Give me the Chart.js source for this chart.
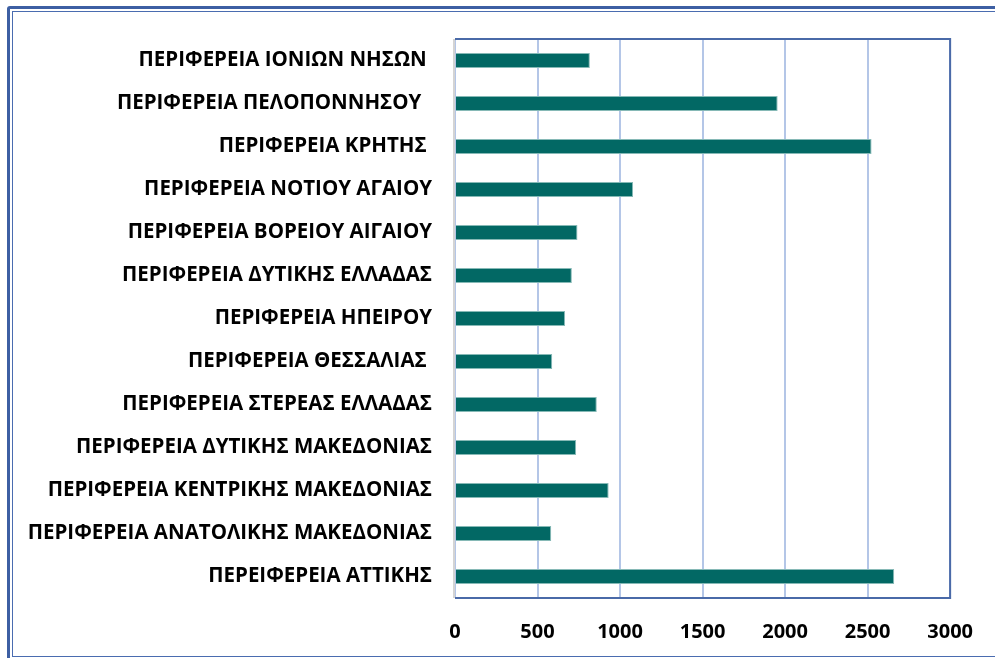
<!DOCTYPE html>
<html>
<head>
<meta charset="utf-8">
<script src="https://cdn.jsdelivr.net/npm/chart.js@4"></script>
<style>
  html, body { margin: 0; padding: 0; background: #fff; overflow: hidden; }
  #frame { position: absolute; left: 7px; top: 6px; width: 1100px; height: 700px;
           border: 3px solid #3d5fa3; border-radius: 3px; }
  #frameInner { position: absolute; left: 2px; top: 2px; width: 1090px; height: 644px;
                border: 1px solid #4a6cb0; }
  #wrap { position: absolute; left: 0; top: 0; width: 995px; height: 658px; }
</style>
</head>
<body>
<div id="frame"><div id="frameInner"></div></div>
<div id="wrap"><canvas id="chartPerifereies"></canvas></div>
<script>
/* Οριζόντιο ραβδόγραμμα ανά περιφέρεια */

const perifereies = [
  "ΠΕΡΙΦΕΡΕΙΑ ΙΟΝΙΩΝ ΝΗΣΩΝ ",
  "ΠΕΡΙΦΕΡΕΙΑ ΠΕΛΟΠΟΝΝΗΣΟΥ  ",
  "ΠΕΡΙΦΕΡΕΙΑ ΚΡΗΤΗΣ ",
  "ΠΕΡΙΦΕΡΕΙΑ ΝΟΤΙΟΥ ΑΓΑΙΟΥ",
  "ΠΕΡΙΦΕΡΕΙΑ ΒΟΡΕΙΟΥ ΑΙΓΑΙΟΥ",
  "ΠΕΡΙΦΕΡΕΙΑ ΔΥΤΙΚΗΣ ΕΛΛΑΔΑΣ",
  "ΠΕΡΙΦΕΡΕΙΑ ΗΠΕΙΡΟΥ",
  "ΠΕΡΙΦΕΡΕΙΑ ΘΕΣΣΑΛΙΑΣ ",
  "ΠΕΡΙΦΕΡΕΙΑ ΣΤΕΡΕΑΣ ΕΛΛΑΔΑΣ",
  "ΠΕΡΙΦΕΡΕΙΑ ΔΥΤΙΚΗΣ ΜΑΚΕΔΟΝΙΑΣ",
  "ΠΕΡΙΦΕΡΕΙΑ ΚΕΝΤΡΙΚΗΣ ΜΑΚΕΔΟΝΙΑΣ",
  "ΠΕΡΙΦΕΡΕΙΑ ΑΝΑΤΟΛΙΚΗΣ ΜΑΚΕΔΟΝΙΑΣ",
  "ΠΕΡΕΙΦΕΡΕΙΑ ΑΤΤΙΚΗΣ"
];

const times = [817, 1955, 2524, 1079, 742, 708, 667, 589, 859, 734, 931, 583, 2661];

const xMin = 0;
const xMax = 3000;
const xStep = 500;

// πλαίσιο περιοχής σχεδίασης: πάνω/δεξιά/κάτω μπλε, αριστερά γκρι
const plotFrame = {
  id: "plotFrame",
  afterDatasetsDraw(chart) {
    const { ctx, chartArea: a } = chart;
    ctx.save();
    ctx.lineWidth = 2;
    ctx.strokeStyle = "#4a6aa8";
    ctx.beginPath();
    ctx.moveTo(a.left, a.top);
    ctx.lineTo(a.right, a.top);
    ctx.lineTo(a.right, a.bottom);
    ctx.lineTo(a.left, a.bottom);
    ctx.stroke();
    ctx.strokeStyle = "#d4d4d4";
    ctx.beginPath();
    ctx.moveTo(a.left - 1, a.top);
    ctx.lineTo(a.left - 1, a.bottom);
    ctx.stroke();
    ctx.restore();
  }
};

const ctx = document.getElementById("chartPerifereies");

new Chart(ctx, {
  type: "bar",
  data: {
    labels: perifereies,
    datasets: [{
      data: times,
      backgroundColor: "#026864",
      borderColor: "#86b9b6",
      borderWidth: 1,
      borderSkipped: "left",
      categoryPercentage: 1,
      barPercentage: 0.35,
    }],
  },
  options: {
    indexAxis: "y",
    responsive: true,
    maintainAspectRatio: false,
    animation: false,
    layout: { padding: { left: 0, right: 44, top: 39, bottom: 0 } },
    plugins: {
      legend: { display: false },
      tooltip: { enabled: false },
    },
    scales: {
      x: {
        min: xMin,
        max: xMax,
        ticks: {
          stepSize: xStep,
          color: "#000",
          font: { family: "Open Sans", weight: "bold", size: 20 },
          padding: 22,
          callback: (v) => String(v),
        },
        grid: { color: "#b4c6e7", lineWidth: 2, drawTicks: false },
        border: { display: false },
        afterFit: (s) => { s.height = 60; },
      },
      y: {
        ticks: {
          color: "#000",
          font: { family: "Open Sans", weight: "bold", size: 20.5 },
          padding: 23,
        },
        grid: { display: false, drawTicks: false },
        border: { display: false },
        afterFit: (s) => { s.width = 455; },
      },
    },
  },
  plugins: [plotFrame],
});
</script>
</body>
</html>
